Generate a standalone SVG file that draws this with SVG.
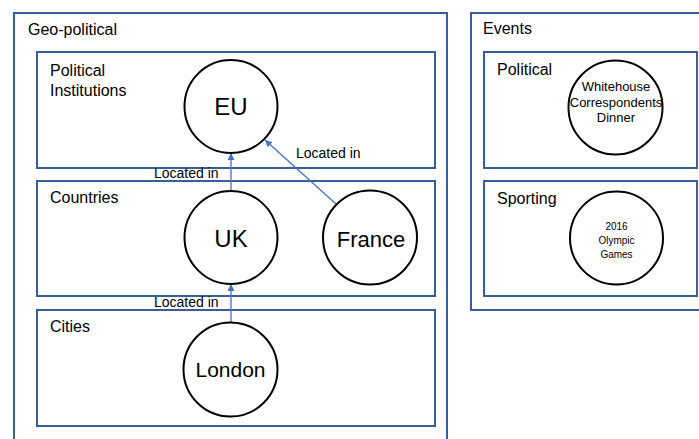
<svg xmlns="http://www.w3.org/2000/svg" width="699" height="439" viewBox="0 0 699 439">
<defs>
<style>
.box{fill:#fff;stroke:#3A5D9C;stroke-width:2}
.sub{fill:none;stroke:#3A5D9C;stroke-width:2}
.node{fill:#fff;stroke:#000;stroke-width:2}
.t{font-family:"Liberation Sans",Arial,sans-serif;fill:#000}
.lbl{font-size:16px}
.big{font-size:22px;text-anchor:middle}
.edge{stroke:#4472C4;stroke-width:1.3;fill:none;marker-end:url(#arr)}
.elbl{font-size:14px}
</style>
<marker id="arr" viewBox="0 0 10 10" refX="10" refY="5" markerWidth="7" markerHeight="7" markerUnits="userSpaceOnUse" orient="auto">
<path d="M0,0 L10,5 L0,10 z" fill="#4472C4"/>
</marker>
</defs>
<rect width="699" height="439" fill="#fff"/>
<g id="geo-political">
<rect class="box" x="14" y="13" width="433" height="440"/>
<text class="t lbl" x="28" y="35">Geo-political</text>
</g>
<g id="political-institutions">
<rect class="sub" x="37" y="52" width="398" height="116"/>
<text class="t lbl" x="50" y="76">Political</text>
<text class="t lbl" x="50" y="96">Institutions</text>
</g>
<g id="countries">
<rect class="sub" x="37" y="181" width="398" height="115"/>
<text class="t lbl" x="50" y="203">Countries</text>
</g>
<g id="cities">
<rect class="sub" x="37" y="310" width="398" height="116"/>
<text class="t lbl" x="50" y="332">Cities</text>
</g>
<g id="events">
<rect class="box" x="471" y="13" width="240" height="297"/>
<text class="t lbl" x="483" y="34">Events</text>
</g>
<g id="political-events">
<rect class="sub" x="484" y="52" width="213" height="116"/>
<text class="t lbl" x="497" y="75">Political</text>
</g>
<g id="sporting">
<rect class="sub" x="484" y="181" width="213" height="115"/>
<text class="t lbl" x="497" y="204">Sporting</text>
</g>
<g id="connectors">
<line class="edge" x1="231" y1="191" x2="231" y2="153"/>
<text class="t elbl" x="154" y="178">Located in</text>
<line class="edge" x1="336" y1="204" x2="265" y2="140"/>
<text class="t elbl" x="296" y="158">Located in</text>
<line class="edge" x1="231" y1="322" x2="231" y2="284"/>
<text class="t elbl" x="154" y="307">Located in</text>
</g>
<g id="eu">
<circle class="node" cx="231" cy="106.5" r="46.5"/>
<text class="t big" x="231" y="115" style="font-size:24px">EU</text>
</g>
<g id="uk">
<circle class="node" cx="231" cy="237.5" r="46.5"/>
<text class="t big" x="231" y="246.5" style="font-size:24px">UK</text>
</g>
<g id="france">
<circle class="node" cx="370" cy="237.5" r="47"/>
<text class="t big" x="371" y="246.5">France</text>
</g>
<g id="london">
<circle class="node" cx="230.5" cy="369.5" r="47"/>
<text class="t big" x="230.5" y="377" style="font-size:21px">London</text>
</g>
<g id="whitehouse-dinner">
<circle class="node" cx="615.5" cy="107.5" r="47"/>
<text class="t" x="616" y="91" font-size="13" text-anchor="middle">Whitehouse</text>
<text class="t" x="616" y="106.5" font-size="13" text-anchor="middle">Correspondents</text>
<text class="t" x="616" y="122" font-size="13" text-anchor="middle">Dinner</text>
</g>
<g id="olympic-games">
<circle class="node" cx="616.5" cy="238" r="46.5"/>
<text class="t" x="616.5" y="230" font-size="10" text-anchor="middle">2016</text>
<text class="t" x="616.5" y="244" font-size="10" text-anchor="middle">Olympic</text>
<text class="t" x="616.5" y="258" font-size="10" text-anchor="middle">Games</text>
</g>
</svg>
